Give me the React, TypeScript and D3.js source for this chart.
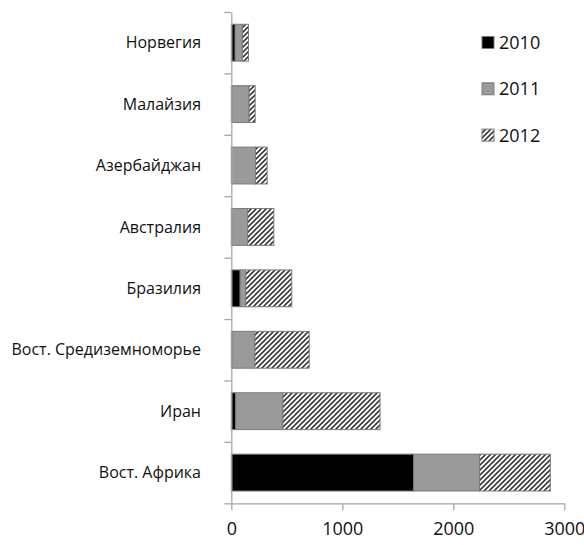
import React, { useEffect, useRef } from "react";
import * as d3 from "d3";

const categories = [
  "Норвегия",
  "Малайзия",
  "Азербайджан",
  "Австралия",
  "Бразилия",
  "Вост. Средиземноморье",
  "Иран",
  "Вост. Африка",
];
const seriesNames = ["2010", "2011", "2012"];
const values2010 = [35, 10, 3, 8, 80, 12, 40, 1642];
const values2011 = [65, 150, 215, 140, 50, 200, 425, 595];
const values2012 = [55, 55, 105, 235, 415, 490, 875, 637];
const xTicks = [0, 1000, 2000, 3000];

const W = 584;
const H = 545;

export default function App() {
  const ref = useRef<SVGSVGElement | null>(null);

  useEffect(() => {
    const svg = d3.select(ref.current);
    svg.selectAll("*").remove();

    const defs = svg.append("defs");
    const pat = defs
      .append("pattern")
      .attr("id", "hatch")
      .attr("patternUnits", "userSpaceOnUse")
      .attr("width", 5)
      .attr("height", 5);
    pat.append("rect").attr("width", 5).attr("height", 5).attr("fill", "#fff");
    pat
      .append("path")
      .attr("d", "M-1,1 l2,-2 M0,5 l5,-5 M4,6 l2,-2")
      .attr("stroke", "#3a3a3a")
      .attr("stroke-width", 1.6);

    const x0 = 231.3;
    const x = d3.scaleLinear().domain([0, 3000]).range([x0, x0 + 333]);
    const yTop = 12;
    const yBot = 503.3;
    const y = d3
      .scaleBand<string>()
      .domain(categories)
      .range([yTop, yBot])
      .paddingInner(0.4)
      .paddingOuter(0.2);

    const fills = ["#000", "#9a9a9a", "url(#hatch)"];
    const data = categories.map((c, i) => ({
      cat: c,
      vals: [values2010[i], values2011[i], values2012[i]],
    }));
    const stack = d3
      .stack<any>()
      .keys([0, 1, 2] as any)
      .value((d: any, k: any) => d.vals[k]);
    const layers = stack(data);

    const g = svg.append("g");
    layers.forEach((layer, li) => {
      g.selectAll(null)
        .data(layer)
        .enter()
        .append("rect")
        .attr("x", (d: any) => x(d[0]))
        .attr("y", (d: any) => y(d.data.cat)!)
        .attr("width", (d: any) => Math.max(0, x(d[1]) - x(d[0])))
        .attr("height", y.bandwidth())
        .attr("fill", fills[li])
        .attr("stroke", "#7a7a7a")
        .attr("stroke-width", 1);
    });

    // Y axis with ticks at band boundaries
    const axisColor = "#a8a8a8";
    const yb = d3
      .scaleLinear()
      .domain([0, categories.length])
      .range([yTop, yBot]);
    const ya = svg
      .append("g")
      .attr("transform", `translate(${x0},0)`)
      .call(
        d3
          .axisLeft(yb)
          .tickValues(d3.range(categories.length + 1))
          .tickSize(7)
          .tickSizeOuter(0)
          .tickFormat(() => "")
      );
    ya.selectAll("path,line").attr("stroke", axisColor).attr("stroke-width", 1.3);

    svg
      .append("g")
      .selectAll("text")
      .data(categories)
      .enter()
      .append("text")
      .attr("x", 201)
      .attr("y", (d) => y(d)! + y.bandwidth() / 2)
      .attr("dy", "0.35em")
      .attr("text-anchor", "end")
      .attr("font-family", "Open Sans, sans-serif")
      .attr("font-size", 16)
      .attr("fill", "#111")
      .text((d) => d);

    // X axis
    const xa = svg
      .append("g")
      .attr("transform", `translate(0,${yBot})`)
      .call(
        d3
          .axisBottom(x)
          .tickValues(xTicks)
          .tickSize(7)
          .tickSizeOuter(0)
          .tickPadding(12)
          .tickFormat((d) => String(d))
      );
    xa.selectAll("path,line").attr("stroke", axisColor).attr("stroke-width", 1.3);
    xa.selectAll("text")
      .attr("font-family", "Open Sans, sans-serif")
      .attr("font-size", 18)
      .attr("fill", "#111");

    // Legend
    const lg = svg.append("g");
    seriesNames.forEach((s, i) => {
      const cy = 42.5 + i * 46.3;
      lg.append("rect")
        .attr("x", 482)
        .attr("y", cy - 6)
        .attr("width", 12)
        .attr("height", 12)
        .attr("fill", fills[i])
        .attr("stroke", "#7a7a7a")
        .attr("stroke-width", 1);
      lg.append("text")
        .attr("x", 499)
        .attr("y", cy)
        .attr("dy", "0.36em")
        .attr("font-family", "Open Sans, sans-serif")
        .attr("font-size", 18)
        .attr("fill", "#111")
        .text(s);
    });
  }, []);

  return (
    <svg
      ref={ref}
      width={W}
      height={H}
      style={{ position: "absolute", left: 0, top: 0, background: "#fff" }}
    />
  );
}
